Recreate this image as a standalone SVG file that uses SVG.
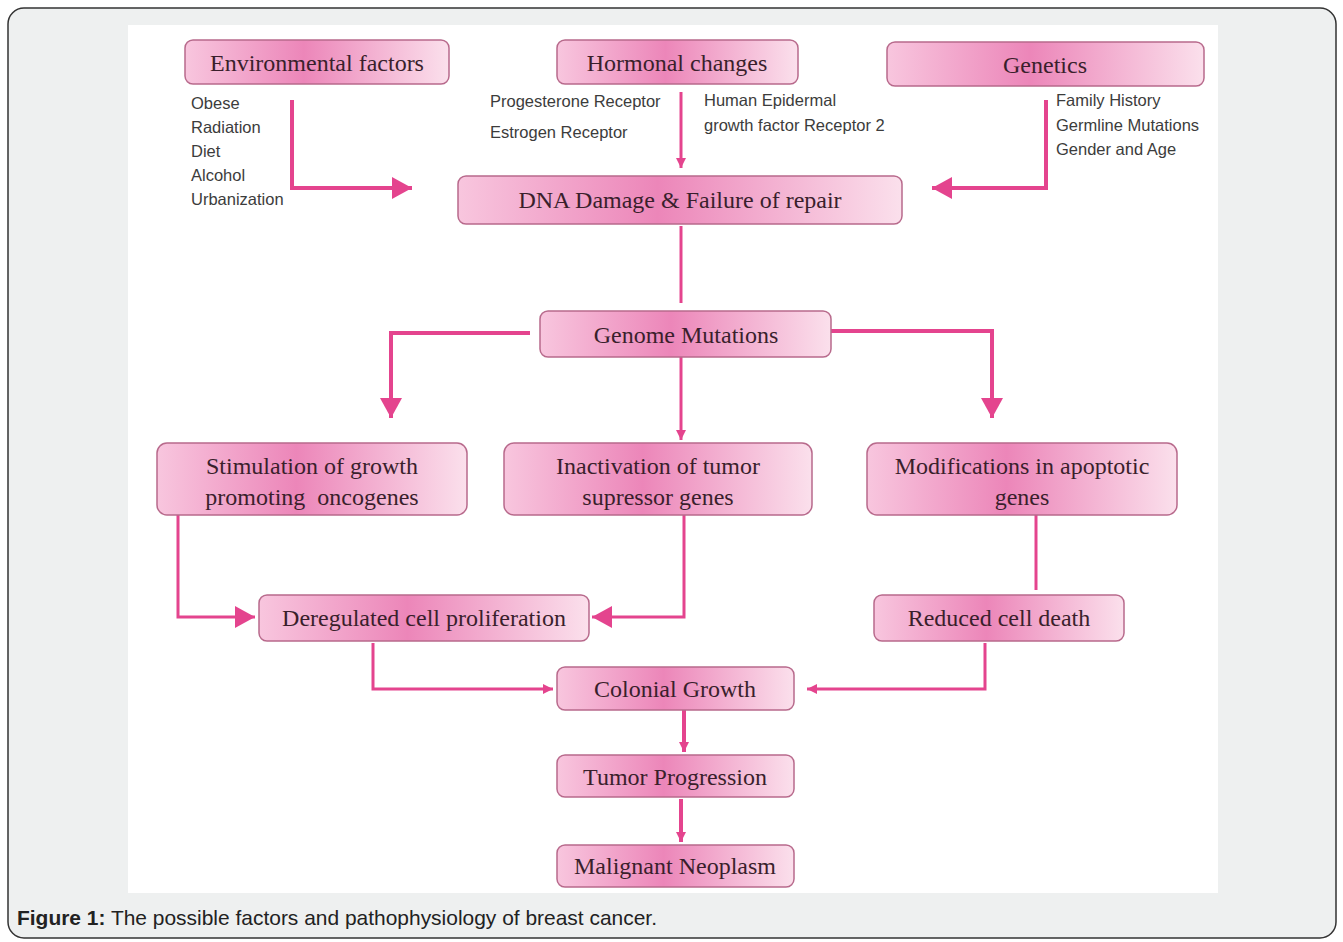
<svg xmlns="http://www.w3.org/2000/svg" width="1343" height="942" viewBox="0 0 1343 942">
<defs>
<linearGradient id="pk" x1="0" y1="0" x2="1" y2="0">
<stop offset="0" stop-color="#f8c6de"/>
<stop offset="0.45" stop-color="#ec86b9"/>
<stop offset="1" stop-color="#fbe0ec"/>
</linearGradient>
<marker id="ah" markerUnits="userSpaceOnUse" markerWidth="24" markerHeight="24" refX="20" refY="11" orient="auto">
<path d="M0,0 L20,11 L0,22 z" fill="#e4448e"/>
</marker>
<marker id="as" markerUnits="userSpaceOnUse" markerWidth="12" markerHeight="12" refX="10" refY="5" orient="auto">
<path d="M0,0 L10,5 L0,10 z" fill="#e4448e"/>
</marker>
<style>
.box{fill:url(#pk);stroke:#b86a8c;stroke-width:1.5}
.t{font-family:"Liberation Serif",serif;font-size:24px;fill:#3a1f2c;text-anchor:middle}
.s{font-family:"Liberation Sans",Arial,sans-serif;font-size:16.5px;fill:#3c3c3c}
.c{fill:none;stroke:#e4448e;stroke-width:4}
.cs{fill:none;stroke:#e4448e;stroke-width:3}
</style>
</defs>
<rect x="8" y="8" width="1328" height="930" rx="16" fill="#eef0f0" stroke="#333" stroke-width="1.5"/>
<rect x="128" y="25" width="1090" height="868" fill="#ffffff"/>

<g id="connectors">
<path class="c" d="M292,100 V188 H412" marker-end="url(#ah)"/>
<path class="cs" d="M681,92 V168" marker-end="url(#as)"/>
<path class="c" d="M1046,100 V188 H932" marker-end="url(#ah)"/>
<path class="cs" d="M681,226 V303"/>
<path class="c" d="M530,333 H391 V418" marker-end="url(#ah)"/>
<path class="cs" d="M681,357 V440" marker-end="url(#as)"/>
<path class="c" d="M831,331 H992 V418" marker-end="url(#ah)"/>
<path class="cs" d="M178,515 V617 H255" marker-end="url(#ah)"/>
<path class="cs" d="M684,515 V617 H592" marker-end="url(#ah)"/>
<path class="cs" d="M1036,515 V590"/>
<path class="cs" d="M373,643 V689 H553" marker-end="url(#as)"/>
<path class="cs" d="M985,643 V689 H807" marker-end="url(#as)"/>
<path class="c" d="M684,710 V752" marker-end="url(#as)"/>
<path class="c" d="M681,799 V842" marker-end="url(#as)"/>
</g>

<g id="env">
<rect class="box" x="185" y="40" width="264" height="44" rx="8"/>
<text class="t" x="317" y="71">Environmental factors</text>
<text class="s" x="191" y="109">Obese</text>
<text class="s" x="191" y="133">Radiation</text>
<text class="s" x="191" y="157">Diet</text>
<text class="s" x="191" y="181">Alcohol</text>
<text class="s" x="191" y="205">Urbanization</text>
</g>
<g id="hormonal">
<rect class="box" x="557" y="40" width="241" height="44" rx="8"/>
<text class="t" x="677" y="71">Hormonal changes</text>
<text class="s" x="490" y="107">Progesterone Receptor</text>
<text class="s" x="490" y="138">Estrogen Receptor</text>
<text class="s" x="704" y="106">Human Epidermal</text>
<text class="s" x="704" y="131">growth factor Receptor 2</text>
</g>
<g id="genetics">
<rect class="box" x="887" y="42" width="317" height="44" rx="8"/>
<text class="t" x="1045" y="73">Genetics</text>
<text class="s" x="1056" y="106">Family History</text>
<text class="s" x="1056" y="131">Germline Mutations</text>
<text class="s" x="1056" y="155">Gender and Age</text>
</g>
<g id="dna">
<rect class="box" x="458" y="176" width="444" height="48" rx="8"/>
<text class="t" x="680" y="208">DNA Damage &amp; Failure of repair</text>
</g>
<g id="genome">
<rect class="box" x="540" y="311" width="291" height="46" rx="8"/>
<text class="t" x="686" y="343">Genome Mutations</text>
</g>
<g id="stim">
<rect class="box" x="157" y="443" width="310" height="72" rx="10"/>
<text class="t" x="312" y="474">Stimulation of growth</text>
<text class="t" x="312" y="505" xml:space="preserve">promoting  oncogenes</text>
</g>
<g id="inact">
<rect class="box" x="504" y="443" width="308" height="72" rx="10"/>
<text class="t" x="658" y="474">Inactivation of tumor</text>
<text class="t" x="658" y="505">supressor genes</text>
</g>
<g id="mod">
<rect class="box" x="867" y="443" width="310" height="72" rx="10"/>
<text class="t" x="1022" y="474">Modifications in apoptotic</text>
<text class="t" x="1022" y="505">genes</text>
</g>
<g id="dereg">
<rect class="box" x="259" y="595" width="330" height="46" rx="8"/>
<text class="t" x="424" y="626">Deregulated cell proliferation</text>
</g>
<g id="reduced">
<rect class="box" x="874" y="595" width="250" height="46" rx="8"/>
<text class="t" x="999" y="626">Reduced cell death</text>
</g>
<g id="colonial">
<rect class="box" x="557" y="667" width="237" height="43" rx="8"/>
<text class="t" x="675" y="697">Colonial Growth</text>
</g>
<g id="tumor">
<rect class="box" x="557" y="755" width="237" height="42" rx="8"/>
<text class="t" x="675" y="785">Tumor Progression</text>
</g>
<g id="malignant">
<rect class="box" x="557" y="845" width="237" height="42" rx="8"/>
<text class="t" x="675" y="874">Malignant Neoplasm</text>
</g>
<text x="17" y="925" font-family="'Liberation Sans',Arial,sans-serif" font-size="21" fill="#222" textLength="640" lengthAdjust="spacingAndGlyphs"><tspan font-weight="bold">Figure 1:</tspan> The possible factors and pathophysiology of breast cancer.</text>
</svg>
